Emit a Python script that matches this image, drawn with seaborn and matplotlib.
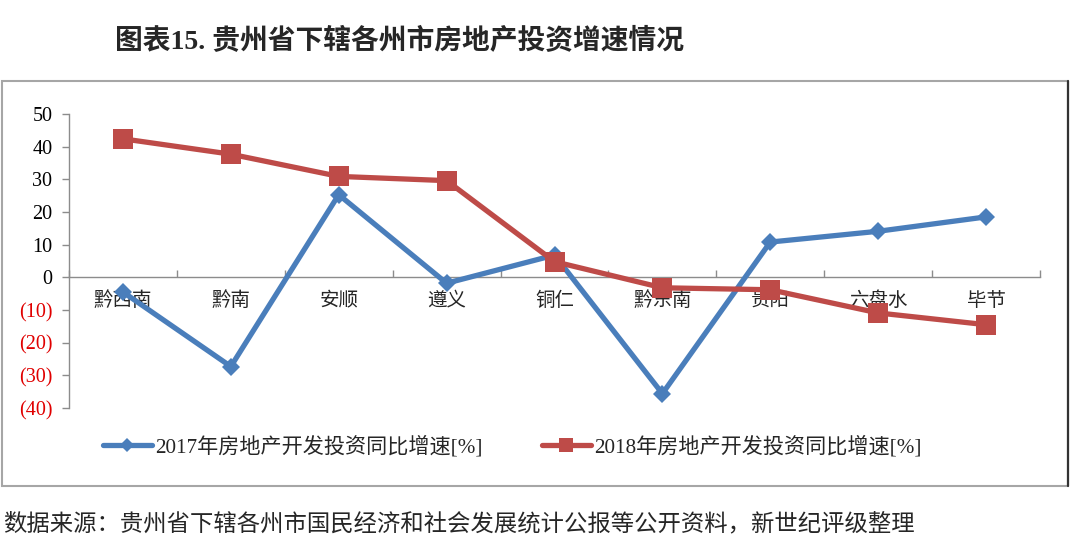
import matplotlib
matplotlib.use('Agg')
import matplotlib.pyplot as plt
import seaborn as sns
import pandas as pd
from matplotlib.ticker import FixedLocator, FuncFormatter
from matplotlib.patches import Rectangle
from matplotlib.lines import Line2D

regions = ['黔西南', '黔南', '安顺', '遵义', '铜仁', '黔东南', '贵阳', '六盘水', '毕节']
growth_2017 = [-4.5, -27.3, 25.3, -1.8, 6.8, -35.6, 10.8, 14.1, 18.5]
growth_2018 = [42.4, 37.7, 30.9, 29.6, 4.8, -3.2, -3.8, -10.9, -14.5]
series_names = ['2017年房地产开发投资同比增速[%]', '2018年房地产开发投资同比增速[%]']
y_ticks = [50, 40, 30, 20, 10, 0, -10, -20, -30, -40]
title_text = '图表15. 贵州省下辖各州市房地产投资增速情况'
source_text = '数据来源：贵州省下辖各州市国民经济和社会发展统计公报等公开资料，新世纪评级整理'

sns.set_style('white')
plt.rcParams['font.family'] = ['Liberation Serif', 'Noto Sans CJK SC', 'DejaVu Sans']
MIX = ['Liberation Serif', 'Noto Sans CJK SC', 'DejaVu Sans']
CJK = ['Noto Sans CJK SC', 'DejaVu Sans']

W, H = 1080, 548
fig = plt.figure(figsize=(W / 100, H / 100), dpi=100)
fig.patch.set_facecolor('white')

def fx(px):
    return px / W

def fy(py):
    return 1 - py / H

ax = fig.add_axes([fx(69), fy(408), fx(1040) - fx(69), fy(114) - fy(408)])
ax.set_facecolor('none')

BLUE = '#4A7EBB'
RED = '#BE4B48'
GRAY = '#8C8C8C'

df17 = pd.DataFrame({'region': regions, 'value': growth_2017})
df18 = pd.DataFrame({'region': regions, 'value': growth_2018})

sns.lineplot(data=df17, x='region', y='value', ax=ax, color=BLUE, linewidth=3.8,
             marker='D', markersize=9.5, markeredgewidth=0, sort=False, zorder=3)
sns.lineplot(data=df18, x='region', y='value', ax=ax, color=RED, linewidth=3.8,
             marker='s', markersize=14, markeredgewidth=0, sort=False, zorder=4)

n = len(regions)
ax.set_xlim(-0.5, n - 0.5)
ax.set_ylim(min(y_ticks), max(y_ticks))
ax.set_xlabel('')
ax.set_ylabel('')

for s in ['top', 'right']:
    ax.spines[s].set_visible(False)
ax.spines['left'].set_color(GRAY)
ax.spines['left'].set_linewidth(1.0)
ax.spines['bottom'].set_position(('data', 0))
ax.spines['bottom'].set_color(GRAY)
ax.spines['bottom'].set_linewidth(1.0)

ax.yaxis.set_major_locator(FixedLocator(y_ticks))
ax.yaxis.set_major_formatter(FuncFormatter(lambda v, p: f'({abs(int(v))})' if v < 0 else f'{int(v)}'))
ax.tick_params(axis='y', left=True, direction='out', length=5, color=GRAY, width=1.0, pad=7,
               labelsize=14.5, labelcolor='black')

ax.xaxis.set_major_locator(FixedLocator(list(range(n))))
ax.set_xticklabels(regions, fontfamily=CJK, fontsize=14)
ax.xaxis.set_minor_locator(FixedLocator([i - 0.5 for i in range(n + 1)]))
ax.tick_params(axis='x', which='major', bottom=True, length=0, pad=9)
ax.tick_params(axis='x', which='minor', bottom=True, direction='in', length=5, color=GRAY, width=1.0)
ax.grid(False)

fig.canvas.draw()
for lab, v in zip(ax.get_yticklabels(), ax.get_yticks()):
    lab.set_color('#E00000' if v < 0 else 'black')
    lab.set_fontfamily('Liberation Serif')

# legends
h1 = Line2D([], [], color=BLUE, linewidth=3.8, marker='D', markersize=7, markeredgewidth=0)
h2 = Line2D([], [], color=RED, linewidth=3.8, marker='s', markersize=10, markeredgewidth=0)
leg_kw = dict(frameon=False, loc='center left', borderpad=0, borderaxespad=0,
              handlelength=2.3, handletextpad=0.15, prop={'family': MIX, 'size': 15.2})
leg1 = fig.legend([h1], [series_names[0]], bbox_to_anchor=(fx(103), fy(447)), **leg_kw)
leg2 = fig.legend([h2], [series_names[1]], bbox_to_anchor=(fx(542), fy(447)), **leg_kw)

# chart border
fig.patches.append(Rectangle((fx(2), fy(486)), fx(1068) - fx(2), fy(81) - fy(486),
                             transform=fig.transFigure, fill=False, edgecolor='#A6A6A6',
                             linewidth=1.5, zorder=0))
fig.lines.append(Line2D([fx(1068), fx(1068)], [fy(486), fy(81)], transform=fig.transFigure,
                        color='#333333', linewidth=1.6))

fig.text(fx(115), fy(42), title_text, fontsize=20, fontweight='bold', family=MIX,
         ha='left', va='center')
fig.text(fx(3), fy(524), source_text, fontsize=16.8, family=CJK, ha='left', va='center')

fig.savefig('out.png', dpi=100, facecolor='white')
